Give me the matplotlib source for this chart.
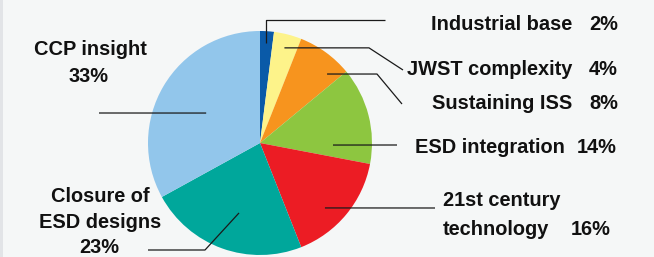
import numpy as np
import matplotlib
matplotlib.use("Agg")
import matplotlib.pyplot as plt
from matplotlib.patches import Rectangle

# ---- data ----
categories = ["Industrial base", "JWST complexity", "Sustaining ISS", "ESD integration",
              "21st century technology", "Closure of ESD designs", "CCP insight"]
shares = [2, 4, 8, 14, 16, 23, 33]
colors = ["#0a5aa8", "#fdf38a", "#f7941e", "#8dc640", "#ec1c24", "#00a79b", "#92c6eb"]
pct_labels = [f"{v}%" for v in shares]

W, H = 654, 257
DPI = 100
fig = plt.figure(figsize=(W / DPI, H / DPI), dpi=DPI, facecolor="#f5f7f7")
fig.patches.append(Rectangle((0, 0), 3 / W, 1, transform=fig.transFigure,
                             facecolor="#e2e4e7", edgecolor="none"))

# pie placement (pixels)
cx, cy, R = 260, 143, 112
ax = fig.add_axes([(cx - R) / W, (H - cy - R) / H, 2 * R / W, 2 * R / H])
ax.pie(shares, colors=colors, startangle=90, counterclock=False,
       wedgeprops=dict(linewidth=0))
ax.set_xlim(-1, 1)
ax.set_ylim(-1, 1)
ax.set_aspect("equal")
ax.axis("off")

# overlay in pixel coordinates for leaders and labels
ov = fig.add_axes([0, 0, 1, 1], zorder=5)
ov.set_xlim(0, W)
ov.set_ylim(H, 0)
ov.axis("off")
ov.patch.set_alpha(0)

# anchor angles (deg) and radius fraction for leader start, per wedge
cum = np.cumsum([0] + shares)
mid = [90 - 3.6 * (cum[i] + cum[i + 1]) / 2 for i in range(len(shares))]
anchor_ang = [mid[0], mid[1], 45.8, -1.6, -45.0, -106.7, 150.9]
anchor_r = [0.895, 0.877, 0.859, 0.652, 0.82, 0.652, 0.55]
anchors = [(cx + R * r * np.cos(np.radians(a)), cy - R * r * np.sin(np.radians(a)))
           for a, r in zip(anchor_ang, anchor_r)]

paths = [
    [(267, 20), (385, 20)],
    [(369, 48), (403, 70)],
    [(377, 74), (402, 104)],
    [(397, 145)],
    [(435, 208)],
    [(205, 250), (148, 250)],
    [(99, 113)],
]
for (ax0, ay0), p in zip(anchors, paths):
    pts = [(ax0, ay0)] + p
    if p and p[0][0] in (267,):
        pts = [(ax0, ay0), (ax0, p[0][1]), p[1]]
    elif len(p) == 2 and p[0][0] in (369, 377):
        pts = [(ax0, ay0), (p[0][0], ay0), p[1]]
    xs, ys = zip(*pts)
    ov.plot(xs, ys, color="#1a1a1a", lw=0.9, solid_capstyle="butt")

fp = dict(family=["Liberation Sans", "DejaVu Sans"], fontweight="bold",
          fontsize=14.4, color="#111111")

# right-side labels
right_names = [(categories[0], 572, 30, pct_labels[0], 589),
               (categories[1], 572, 75, pct_labels[1], 589),
               (categories[2], 572, 109, pct_labels[2], 589),
               (categories[3], 565, 153, pct_labels[3], 577)]
for name, xr, yb, pct, xp in right_names:
    ov.text(xr, yb, name, ha="right", va="baseline", **fp)
    ov.text(xp, yb, pct, ha="left", va="baseline", **fp)

ov.text(443, 206, "21st century", ha="left", va="baseline", **fp)
ov.text(443, 235, "technology", ha="left", va="baseline", **fp)
ov.text(571, 235, pct_labels[4], ha="left", va="baseline", **fp)

ov.text(100, 202, "Closure of", ha="center", va="baseline", **fp)
ov.text(100, 228, "ESD designs", ha="center", va="baseline", **fp)
ov.text(99, 253, pct_labels[5], ha="center", va="baseline", **fp)

ov.text(90, 55, categories[6], ha="center", va="baseline", **fp)
ov.text(89, 82, pct_labels[6], ha="center", va="baseline", **fp)

fig.savefig("out.png", dpi=DPI, facecolor=fig.get_facecolor())
